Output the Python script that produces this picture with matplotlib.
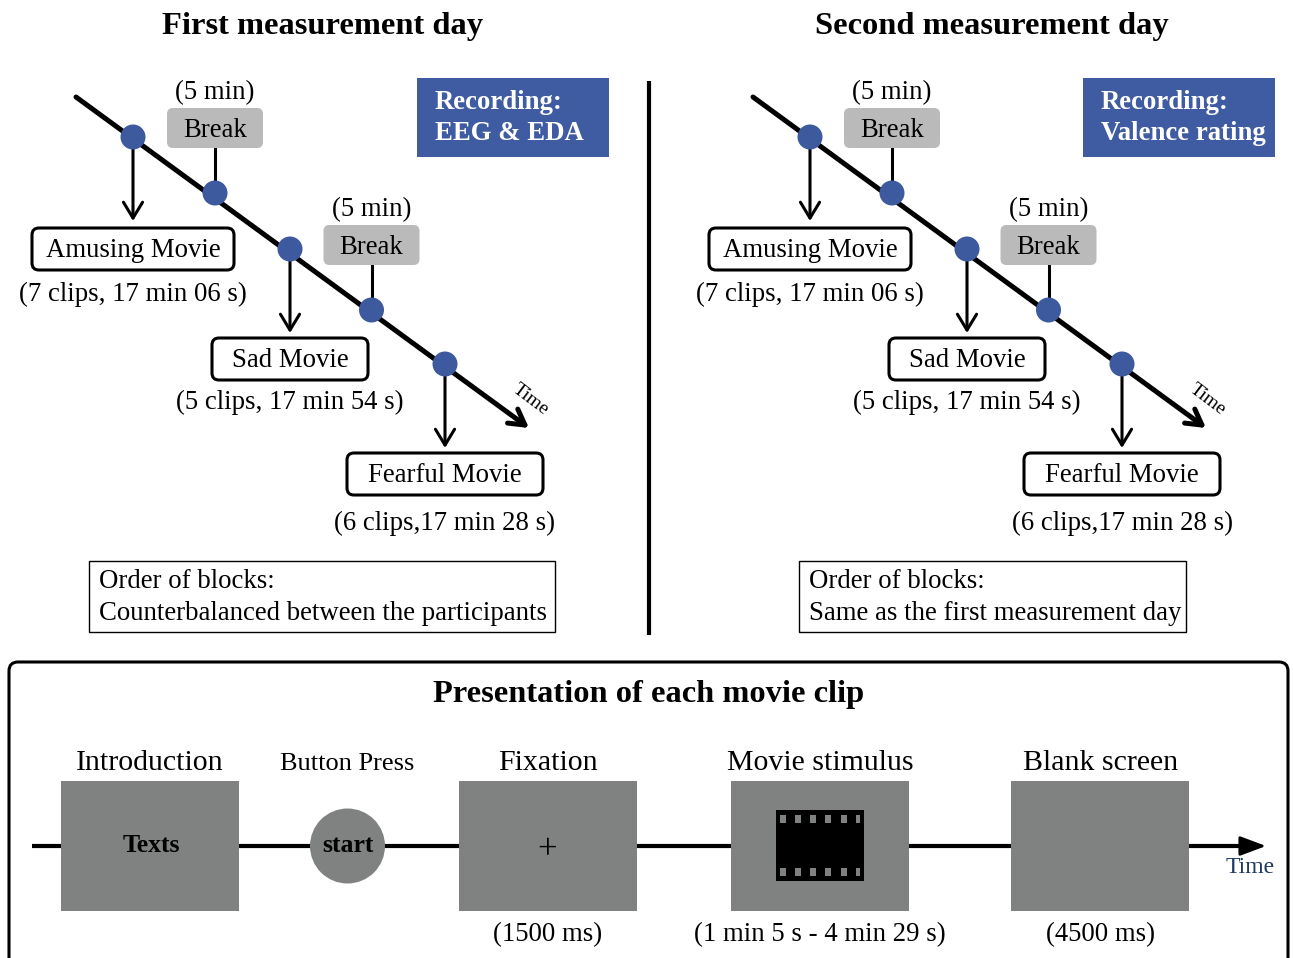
import matplotlib
matplotlib.use("Agg")
import matplotlib.pyplot as plt
from matplotlib.patches import FancyBboxPatch, Rectangle, Circle

plt.rcParams['font.family'] = ['Liberation Serif', 'DejaVu Serif']

# ---------- texts ----------
DAY_TITLES = ["First measurement day", "Second measurement day"]
RECORDINGS = ["Recording:\nEEG & EDA", "Recording:\nValence rating"]
ORDER_NOTES = ["Order of blocks:\nCounterbalanced between the participants",
               "Order of blocks:\nSame as the first measurement day"]
MOVIES = ["Amusing Movie", "Sad Movie", "Fearful Movie"]
CLIPS = ["(7 clips, 17 min 06 s)", "(5 clips, 17 min 54 s)", "(6 clips,17 min 28 s)"]
BREAK_LABEL = "Break"
BREAK_TIME = "(5 min)"
BOTTOM_TITLE = "Presentation of each movie clip"
STEPS = ["Introduction", "Button Press", "Fixation", "Movie stimulus", "Blank screen"]
DURATIONS = ["(1500 ms)", "(1 min 5 s - 4 min 29 s)", "(4500 ms)"]

BLUE = "#3d5a9e"
RECBLUE = "#3f5ba1"
GREY = "#808281"
BREAKGREY = "#bababa"
FS = 19.3
TITLE_FS = 23.4

fig = plt.figure(figsize=(12.93, 9.58), dpi=100)
ax = fig.add_axes([0, 0, 1, 1])
ax.set_xlim(0, 1293)
ax.set_ylim(958, 0)
ax.axis("off")


def rbox(x0, y0, x1, y1, r, **kw):
    p = FancyBboxPatch((x0 + r, y0 + r), x1 - x0 - 2 * r, y1 - y0 - 2 * r,
                       boxstyle=f"round,pad={r},rounding_size={r}", **kw)
    ax.add_patch(p)


def label(x, y, s, size=FS, **kw):
    # centre alignment sits a little high for this font
    kw.setdefault("ha", "center")
    kw.setdefault("va", "center")
    ax.text(x, y + 2.5, s, fontsize=size, color=kw.pop("color", "black"), **kw)


def arrow(x0, y0, x1, y1, lw=2.2, style="->,head_length=0.38,head_width=0.23", scale=30):
    ax.annotate("", xy=(x1, y1), xytext=(x0, y0),
                arrowprops=dict(arrowstyle=style, lw=lw, color="black",
                                shrinkA=0, shrinkB=0, mutation_scale=scale))


def day_panel(dx, title, title_x, rec, rec_box, note, note_box):
    label(title_x, 24, title, size=TITLE_FS, fontweight="bold")

    # diagonal time line
    arrow(76 + dx, 97, 529 + dx, 428, lw=3.6, scale=26,
          style="->,head_length=0.42,head_width=0.24")
    label(531 + dx, 397, "Time", size=14, rotation=-37)

    # movie blocks
    movie_x = [133, 290, 445]
    dot_y = [137, 249, 364]
    box_y = [(228, 270), (338, 380), (453, 495)]
    half_w = [101, 78, 98]
    clip_y = [292, 400, 521]
    for i in range(3):
        x = movie_x[i] + dx
        arrow(x, dot_y[i], x, 221 + [0, 112, 227][i])
        rbox(x - half_w[i], box_y[i][0], x + half_w[i], box_y[i][1], 7,
             fc="white", ec="black", lw=2.2, zorder=3)
        label(x, (box_y[i][0] + box_y[i][1]) / 2 - 1, MOVIES[i], zorder=4)
        label(x, clip_y[i], CLIPS[i])
        ax.add_patch(Circle((x, dot_y[i]), 12.5, fc=BLUE, ec="none", zorder=5))

    # breaks
    for bx, by, top in [(215, 193, 128), (371.5, 310, 245)]:
        x = bx + dx
        ax.plot([x, x], [top, by], color="black", lw=2.2, zorder=2)
        rbox(x - 48, top - 20, x + 48, top + 20, 6, fc=BREAKGREY, ec="none", zorder=3)
        label(x, top, BREAK_LABEL, zorder=4)
        label(x, top - 38, BREAK_TIME)
        ax.add_patch(Circle((x, by), 12.5, fc=BLUE, ec="none", zorder=5))

    # recording box
    x0, y0, x1, y1 = rec_box
    ax.add_patch(Rectangle((x0, y0), x1 - x0, y1 - y0, fc=RECBLUE, ec="none"))
    label(x0 + 18, (y0 + y1) / 2 - 2, rec, ha="left", color="white", fontweight="bold",
          size=19.3, linespacing=1.33)

    # order note
    x0, y0, x1, y1 = note_box
    ax.add_patch(Rectangle((x0, y0), x1 - x0, y1 - y0, fc="white", ec="black", lw=1.0))
    label(x0 + 10, (y0 + y1) / 2 - 1.5, note, ha="left", linespacing=1.33)


day_panel(0, DAY_TITLES[0], 322.5, RECORDINGS[0], (417, 78, 609, 157), ORDER_NOTES[0], (89, 561, 555, 632))
day_panel(677, DAY_TITLES[1], 992, RECORDINGS[1], (1083, 78, 1275, 157), ORDER_NOTES[1], (799, 561, 1186, 632))

# divider
ax.plot([648.5, 648.5], [81, 635], color="black", lw=3.0, solid_capstyle="butt")

# bottom panel, runs off the lower edge
rbox(9, 662, 1288, 990, 9, fc="white", ec="black", lw=2.2, zorder=0.5)
label(648.5, 692, BOTTOM_TITLE, size=TITLE_FS, fontweight="bold")

# time axis
ax.plot([32, 1240], [846, 846], color="black", lw=3.0, solid_capstyle="butt", zorder=1)
arrow(1235, 846, 1266, 846, lw=2.0, scale=20, style="-|>,head_length=0.8,head_width=0.3")
label(1250, 865, "Time", size=17, color="#1f3864")

step_boxes = [(61, 239), (459, 637), (731, 909), (1011, 1189)]
for x0, x1 in step_boxes:
    ax.add_patch(Rectangle((x0, 781), x1 - x0, 130, fc=GREY, ec="none", zorder=2))

label(150, 760, STEPS[0], size=21.5)
label(347.5, 762, STEPS[1], size=19)
label(548, 760, STEPS[2], size=21.5)
label(820, 760, STEPS[3], size=21.5)
label(1100.5, 760, STEPS[4], size=21.5)

label(151, 843, "Texts", fontweight="bold", size=18.5, zorder=3)
ax.add_patch(Circle((347.5, 846), 37.5, fc=GREY, ec="none", zorder=2))
label(347.5, 843, "start", fontweight="bold", size=18.5, zorder=3)
label(547.5, 848, "+", size=25, zorder=3)

# film strip icon
ax.add_patch(Rectangle((776, 810), 88, 71, fc="black", ec="none", zorder=3))
for hole_x in [780, 795, 810, 825, 841, 856]:
    w = 4 if hole_x == 856 else 6
    for hole_y in [815, 868]:
        ax.add_patch(Rectangle((hole_x, hole_y), w, 8, fc=GREY, ec="none", zorder=4))

label(547.5, 932, DURATIONS[0])
label(820, 932, DURATIONS[1])
label(1100, 932, DURATIONS[2])

fig.savefig("out.png", dpi=100, facecolor="white")
